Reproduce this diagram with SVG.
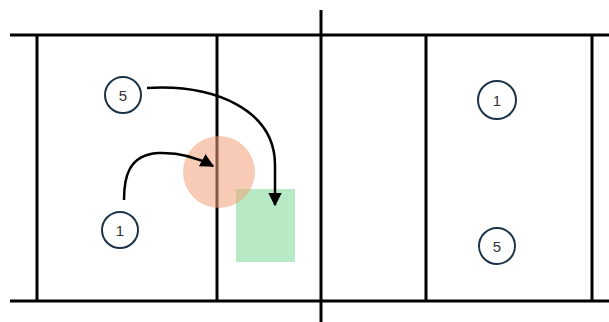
<svg xmlns="http://www.w3.org/2000/svg" width="609" height="322" viewBox="0 0 609 322">
<defs>
<style>
.court{stroke:#000;stroke-width:3;fill:none}
.player circle{fill:#fff;stroke:#1c3347;stroke-width:2}
.player text{font-family:"Liberation Sans",Arial,sans-serif;font-size:15px;fill:#333;text-anchor:middle;dominant-baseline:central}
.move{stroke:#000;stroke-width:2.5;fill:none;marker-end:url(#ah)}
</style>
<marker id="ah" viewBox="0 0 10 10" refX="9" refY="5" markerWidth="5.5" markerHeight="5.5" orient="auto" markerUnits="strokeWidth">
<path d="M0,0 L10,5 L0,10 z" fill="#000"/>
</marker>
</defs>
<rect width="609" height="322" fill="#fff"/>
<g id="court">
<line class="court" x1="10" y1="35" x2="609" y2="35"/>
<line class="court" x1="10" y1="301" x2="609" y2="301"/>
<line class="court" x1="37" y1="35" x2="37" y2="301"/>
<line class="court" x1="217" y1="35" x2="217" y2="301"/>
<line class="court" x1="321" y1="10" x2="321" y2="322"/>
<line class="court" x1="426" y1="35" x2="426" y2="301"/>
<line class="court" x1="592" y1="35" x2="592" y2="301"/>
</g>
<g id="zone-target">
<rect x="236" y="189" width="59" height="73" fill="#9fe3b0" fill-opacity="0.75"/>
</g>
<g id="zone-block">
<circle cx="219" cy="172" r="36" fill="#f0a07a" fill-opacity="0.55"/>
</g>
<g id="connectors">
<path class="move" d="M124,200 C124,178 128,155 158,153 C182,152 200,159 213,166"/>
<path class="move" d="M147,88 C215,84 275,110 275,165 L275,205"/>
</g>
<g id="p5-left" class="player"><circle cx="123" cy="95" r="18"/><text x="123" y="95">5</text></g>
<g id="p1-left" class="player"><circle cx="120" cy="230" r="18"/><text x="120" y="230">1</text></g>
<g id="p1-right" class="player"><circle cx="497" cy="100" r="19"/><text x="497" y="100">1</text></g>
<g id="p5-right" class="player"><circle cx="497" cy="246" r="18"/><text x="497" y="246">5</text></g>
</svg>
